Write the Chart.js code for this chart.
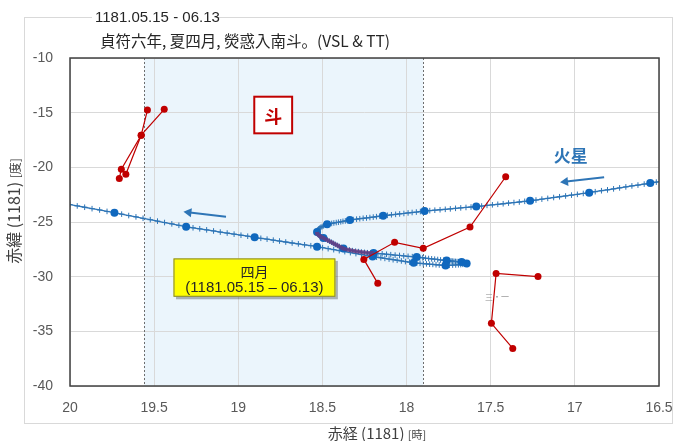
<!DOCTYPE html>
<html>
<head>
<meta charset="utf-8">
<script src="https://cdn.jsdelivr.net/npm/chart.js@4.4.1/dist/chart.umd.min.js"></script>
<style>
  html, body { margin: 0; padding: 0; background: #fff; }
  canvas { display: block; }
</style>
</head>
<body>
<canvas id="c" width="674" height="441"></canvas>
<script>
// Mars daily positions (right ascension in hours, declination in degrees), 1181.
// First entry is day -2; a large marker is placed every 10 days from day 0.
const trackStartDay = -2;
const markEvery = 10;
const raDaily = [
  16.480, 16.516,
  16.552, 16.588, 16.625, 16.661, 16.697, 16.734, 16.770, 16.806, 16.842, 16.879,
  16.915, 16.950, 16.985, 17.020, 17.055, 17.091, 17.126, 17.161, 17.196, 17.231,
  17.266, 17.298, 17.330, 17.362, 17.394, 17.426, 17.458, 17.490, 17.522, 17.554,
  17.586, 17.617, 17.647, 17.678, 17.709, 17.740, 17.770, 17.801, 17.832, 17.862,
  17.893, 17.918, 17.942, 17.967, 17.991, 18.016, 18.041, 18.065, 18.090, 18.114,
  18.139, 18.159, 18.179, 18.198, 18.218, 18.238, 18.258, 18.278, 18.297, 18.317,
  18.337, 18.351, 18.364, 18.378, 18.391, 18.405, 18.418, 18.432, 18.445, 18.459,
  18.472, 18.483, 18.493, 18.502, 18.510, 18.517, 18.523, 18.527, 18.530, 18.532,
  18.532, 18.532, 18.531, 18.529, 18.526, 18.522, 18.517, 18.512, 18.506, 18.500,
  18.494, 18.482, 18.470, 18.458, 18.446, 18.435, 18.423, 18.411, 18.399, 18.387,
  18.375, 18.357, 18.339, 18.321, 18.303, 18.286, 18.268, 18.250, 18.232, 18.214,
  18.196, 18.170, 18.145, 18.119, 18.094, 18.068, 18.042, 18.017, 17.991, 17.966,
  17.940, 17.922, 17.904, 17.887, 17.869, 17.851, 17.833, 17.815, 17.798, 17.780,
  17.762, 17.753, 17.744, 17.735, 17.726, 17.718, 17.709, 17.700, 17.691, 17.682,
  17.673, 17.667, 17.662, 17.657, 17.653, 17.650, 17.647, 17.645, 17.644, 17.643,
  17.643, 17.645, 17.649, 17.656, 17.666, 17.678, 17.692, 17.708, 17.726, 17.746,
  17.768, 17.787, 17.806, 17.825, 17.844, 17.863, 17.882, 17.901, 17.920, 17.939,
  17.958, 17.982, 18.007, 18.031, 18.056, 18.080, 18.104, 18.129, 18.153, 18.178,
  18.202, 18.235, 18.268, 18.301, 18.334, 18.367, 18.400, 18.433, 18.466, 18.499,
  18.532, 18.569, 18.606, 18.643, 18.680, 18.718, 18.755, 18.792, 18.829, 18.866,
  18.903, 18.944, 18.984, 19.025, 19.066, 19.107, 19.147, 19.188, 19.229, 19.269,
  19.310, 19.353, 19.395, 19.438, 19.480, 19.523, 19.566, 19.608, 19.651, 19.693,
  19.736, 19.780, 19.824, 19.869, 19.913, 19.957, 20.001, 20.046
];
const decDaily = [
  -21.26, -21.35,
  -21.44, -21.53, -21.62, -21.70, -21.79, -21.88, -21.97, -22.06, -22.14, -22.23,
  -22.32, -22.39, -22.47, -22.54, -22.62, -22.69, -22.76, -22.84, -22.91, -22.99,
  -23.06, -23.11, -23.17, -23.22, -23.27, -23.33, -23.38, -23.43, -23.48, -23.54,
  -23.59, -23.63, -23.67, -23.71, -23.75, -23.80, -23.84, -23.88, -23.92, -23.96,
  -24.00, -24.04, -24.09, -24.13, -24.17, -24.22, -24.26, -24.30, -24.34, -24.39,
  -24.43, -24.47, -24.51, -24.55, -24.59, -24.63, -24.66, -24.70, -24.74, -24.78,
  -24.82, -24.86, -24.90, -24.94, -24.98, -25.02, -25.05, -25.09, -25.13, -25.17,
  -25.21, -25.28, -25.35, -25.42, -25.49, -25.57, -25.64, -25.71, -25.78, -25.85,
  -25.92, -25.98, -26.03, -26.09, -26.14, -26.20, -26.25, -26.31, -26.36, -26.42,
  -26.47, -26.57, -26.66, -26.76, -26.85, -26.95, -27.05, -27.14, -27.24, -27.33,
  -27.43, -27.50, -27.56, -27.62, -27.67, -27.71, -27.75, -27.78, -27.81, -27.83,
  -27.84, -27.88, -27.91, -27.95, -27.99, -28.03, -28.06, -28.10, -28.14, -28.17,
  -28.21, -28.24, -28.27, -28.31, -28.34, -28.37, -28.40, -28.43, -28.47, -28.50,
  -28.53, -28.54, -28.56, -28.57, -28.58, -28.60, -28.61, -28.62, -28.63, -28.65,
  -28.66, -28.67, -28.69, -28.70, -28.72, -28.73, -28.74, -28.76, -28.77, -28.79,
  -28.80, -28.82, -28.84, -28.85, -28.87, -28.89, -28.91, -28.93, -28.94, -28.96,
  -28.98, -28.96, -28.93, -28.91, -28.88, -28.86, -28.83, -28.81, -28.78, -28.76,
  -28.73, -28.67, -28.62, -28.56, -28.50, -28.45, -28.39, -28.33, -28.27, -28.22,
  -28.16, -28.07, -27.98, -27.89, -27.80, -27.71, -27.62, -27.53, -27.44, -27.35,
  -27.26, -27.17, -27.09, -27.00, -26.92, -26.83, -26.74, -26.66, -26.57, -26.49,
  -26.40, -26.30, -26.21, -26.11, -26.01, -25.92, -25.82, -25.72, -25.62, -25.53,
  -25.43, -25.30, -25.17, -25.05, -24.92, -24.79, -24.66, -24.53, -24.41, -24.28,
  -24.15, -24.03, -23.90, -23.78, -23.65, -23.53, -23.40, -23.28
];
// The fourth month (1181.05.15 - 06.13), as day numbers of the track
const aprilFirstDay = 80;
const aprilLastDay = 110;

// Stars of the Dou mansion and neighbouring asterisms: [RA h, Dec deg] chains
const douChainA = [[19.540, -14.76], [19.577, -17.06], [19.695, -20.18], [19.707, -21.01]];
const douChainB = [[19.440, -14.69], [19.577, -17.06], [19.668, -20.64]];
const midChain = [[17.411, -20.86], [17.623, -25.46], [17.901, -27.41], [18.071, -26.86], [18.254, -28.42], [18.171, -30.61]];
const lowChain = [[17.219, -29.99], [17.468, -29.70], [17.496, -34.27], [17.369, -36.56]];

// Extent of the Dou mansion in right ascension
const mansionRA = [19.56, 17.90];

// Axis ranges and tick steps
const raRange = [16.5, 20];
const raStep = 0.5;
const decRange = [-40, -10];
const decStep = 5;

const track = raDaily.map((ra, i) => ({ x: ra, y: decDaily[i] }));
const tenDay = track.filter((p, i) => (i + trackStartDay) >= 0 && (i + trackStartDay) % markEvery === 0);
const april = track.slice(aprilFirstDay - trackStartDay, aprilLastDay - trackStartDay + 1);
const toPts = chain => chain.map(([x, y]) => ({ x, y }));

const BLUE = '#2E75B6';
const DOT = '#1068BE';
const RED = '#C00000';
const CJK = '"Noto Sans CJK JP", "Noto Sans CJK SC", sans-serif';
const LAT = '"Liberation Sans", Arial, sans-serif';

function redChain(chain) {
  return {
    data: toPts(chain), showLine: true, borderColor: RED, borderWidth: 1.2,
    pointRadius: 3.5, pointBackgroundColor: RED, pointBorderColor: RED, pointBorderWidth: 0,
    order: 0
  };
}

function arrow(ctx, x0, y0, x1, y1, color) {
  const ang = Math.atan2(y1 - y0, x1 - x0);
  const hl = 8, hw = 4.5;
  ctx.save();
  ctx.strokeStyle = color; ctx.fillStyle = color; ctx.lineWidth = 2;
  ctx.beginPath();
  ctx.moveTo(x0, y0);
  ctx.lineTo(x1 - Math.cos(ang) * hl * 0.8, y1 - Math.sin(ang) * hl * 0.8);
  ctx.stroke();
  ctx.beginPath();
  ctx.moveTo(x1, y1);
  ctx.lineTo(x1 - Math.cos(ang) * hl + Math.sin(ang) * hw, y1 - Math.sin(ang) * hl - Math.cos(ang) * hw);
  ctx.lineTo(x1 - Math.cos(ang) * hl - Math.sin(ang) * hw, y1 - Math.sin(ang) * hl + Math.cos(ang) * hw);
  ctx.closePath(); ctx.fill();
  ctx.restore();
}

function mixedText(ctx, parts, cx, cy) {
  let w = 0;
  parts.forEach(p => { ctx.font = p.font; w += ctx.measureText(p.text).width; });
  let x = cx - w / 2;
  ctx.textAlign = 'left'; ctx.textBaseline = 'alphabetic';
  parts.forEach(p => { ctx.font = p.font; ctx.fillText(p.text, x, cy + p.dy); x += ctx.measureText(p.text).width; });
}

const decorations = {
  id: 'decorations',
  beforeDraw(chart) {
    const { ctx, chartArea: a, scales: { x } } = chart;
    ctx.save();
    ctx.fillStyle = '#fff';
    ctx.fillRect(0, 0, chart.width, chart.height);
    ctx.strokeStyle = '#D9D9D9'; ctx.lineWidth = 1;
    ctx.strokeRect(24.5, 17.5, 648, 406);
    const x1 = x.getPixelForValue(mansionRA[0]), x2 = x.getPixelForValue(mansionRA[1]);
    ctx.fillStyle = '#EBF5FC';
    ctx.fillRect(Math.min(x1, x2), a.top, Math.abs(x2 - x1), a.bottom - a.top);
    ctx.restore();
  },
  beforeDatasetsDraw(chart) {
    const { ctx, chartArea: a, scales: { x } } = chart;
    ctx.save();
    ctx.strokeStyle = '#6E6E6E'; ctx.lineWidth = 1; ctx.setLineDash([2, 2]);
    mansionRA.forEach(v => {
      const px = Math.round(x.getPixelForValue(v)) + 0.5;
      ctx.beginPath(); ctx.moveTo(px, a.top); ctx.lineTo(px, a.bottom); ctx.stroke();
    });
    ctx.restore();
  },
  afterDatasetsDraw(chart) {
    const { ctx, chartArea: a, scales: { x, y } } = chart;
    const X = v => x.getPixelForValue(v), Y = v => y.getPixelForValue(v);
    ctx.save();

    // mansion name box
    const bx0 = X(18.905), bx1 = X(18.680), by0 = Y(-13.54), by1 = Y(-16.89);
    ctx.fillStyle = '#fff'; ctx.fillRect(bx0, by0, bx1 - bx0, by1 - by0);
    ctx.strokeStyle = RED; ctx.lineWidth = 2; ctx.strokeRect(bx0, by0, bx1 - bx0, by1 - by0);
    ctx.fillStyle = RED; ctx.font = 'bold 18px ' + CJK; ctx.textAlign = 'center'; ctx.textBaseline = 'middle';
    ctx.fillText('斗', (bx0 + bx1) / 2, (by0 + by1) / 2 + 1);

    // planet label and direction arrows
    ctx.fillStyle = BLUE; ctx.font = 'bold 17px ' + CJK;
    ctx.fillText('火星', X(17.024), Y(-18.95));
    arrow(ctx, X(16.826), Y(-20.91), X(17.088), Y(-21.37), BLUE);
    arrow(ctx, X(19.073), Y(-24.52), X(19.326), Y(-24.06), BLUE);

    // month box
    const yx0 = X(19.385), yx1 = X(18.423), yy0 = Y(-28.33), yy1 = Y(-31.84);
    ctx.fillStyle = 'rgba(0,0,0,0.28)';
    ctx.fillRect(yx0 + 2.5, yy0 + 2.5, yx1 - yx0, yy1 - yy0);
    ctx.fillStyle = '#FFFF00'; ctx.fillRect(yx0, yy0, yx1 - yx0, yy1 - yy0);
    ctx.strokeStyle = '#7F7F3F'; ctx.lineWidth = 1; ctx.strokeRect(yx0 + 0.5, yy0 + 0.5, yx1 - yx0 - 1, yy1 - yy0 - 1);
    ctx.fillStyle = '#262626';
    ctx.font = '14px ' + CJK; ctx.textAlign = 'center'; ctx.textBaseline = 'middle';
    ctx.fillText('四月', (yx0 + yx1) / 2, yy0 + 13);
    ctx.font = '15px ' + LAT;
    ctx.fillText('(1181.05.15 – 06.13)', (yx0 + yx1) / 2, yy0 + 29);

    // small star tag
    ctx.fillStyle = '#8C8C8C'; ctx.font = '8px ' + CJK;
    ctx.fillText('三・一', X(17.462), Y(-31.85));

    // plot frame
    ctx.strokeStyle = '#404040'; ctx.lineWidth = 1.5;
    ctx.strokeRect(a.left, a.top, a.right - a.left, a.bottom - a.top);
    ctx.restore();
  },
  afterDraw(chart) {
    const { ctx } = chart;
    ctx.save();
    ctx.fillStyle = '#fff';
    ctx.fillRect(92, 9, 124, 17);
    ctx.fillStyle = '#262626';
    ctx.font = '15px ' + LAT; ctx.textAlign = 'left'; ctx.textBaseline = 'middle';
    ctx.fillText('1181.05.15 - 06.13', 95, 18);
    ctx.font = '15.5px ' + CJK;
    ctx.fillText('貞符六年, 夏四月, 熒惑入南斗。(VSL & TT)', 100, 41);

    ctx.fillStyle = '#404040';
    mixedText(ctx, [
      { text: '赤経 (1181) ', font: '15px ' + CJK, dy: 0 },
      { text: '[時]', font: '11px ' + CJK, dy: 0 }
    ], 377, 439);

    ctx.translate(20, 211);
    ctx.rotate(-Math.PI / 2);
    mixedText(ctx, [
      { text: '赤緯 (1181) ', font: '16px ' + CJK, dy: 0 },
      { text: '[度]', font: '12px ' + CJK, dy: 0 }
    ], 0, 0);
    ctx.restore();
  }
};

new Chart(document.getElementById('c'), {
  type: 'scatter',
  data: {
    datasets: [
      redChain(douChainA),
      redChain(douChainB),
      redChain(midChain),
      redChain(lowChain),
      {
        data: april, showLine: true, borderColor: 'rgba(105,55,125,0.8)', borderWidth: 4,
        pointRadius: 0, order: 1
      },
      {
        data: tenDay, showLine: false, pointRadius: 4, pointBackgroundColor: DOT,
        pointBorderColor: DOT, pointBorderWidth: 0, order: 2
      },
      {
        data: track, showLine: true, borderColor: BLUE, borderWidth: 1.3,
        pointStyle: 'cross', pointRadius: 2.8, pointBorderColor: BLUE, pointBorderWidth: 1,
        order: 3
      }
    ]
  },
  options: {
    responsive: false,
    animation: false,
    events: [],
    layout: { padding: { top: 58, right: 15, left: 0, bottom: 0 } },
    plugins: { legend: { display: false }, tooltip: { enabled: false }, title: { display: false } },
    scales: {
      x: {
        type: 'linear', reverse: true, min: raRange[0], max: raRange[1],
        ticks: {
          stepSize: raStep, padding: 14, color: '#595959', font: { family: LAT, size: 14 },
          callback: v => String(Number(v))
        },
        grid: { color: '#D9D9D9', drawTicks: false },
        border: { display: false },
        afterFit(s) { s.height = 55; s.paddingLeft = 0; s.paddingRight = 0; }
      },
      y: {
        type: 'linear', min: decRange[0], max: decRange[1],
        ticks: { stepSize: decStep, padding: 17, color: '#595959', font: { family: LAT, size: 14 } },
        grid: { color: '#D9D9D9', drawTicks: false },
        border: { display: false },
        afterFit(s) { s.width = 70; s.paddingTop = 0; s.paddingBottom = 0; }
      }
    }
  },
  plugins: [decorations]
});
</script>
</body>
</html>
